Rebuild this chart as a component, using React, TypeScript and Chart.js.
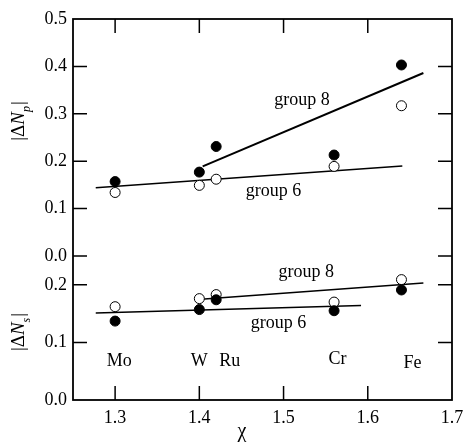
import React, { useEffect, useRef } from "react";
import { Chart, registerables } from "chart.js";

Chart.register(...registerables);

// ---- data ----
const elements = ["Mo", "W", "Ru", "Cr", "Fe"];
const chi = [1.3, 1.4, 1.42, 1.56, 1.64];
const npFilled = [0.157, 0.177, 0.231, 0.213, 0.403];
const npOpen = [0.134, 0.149, 0.162, 0.189, 0.317];
const nsFilled = [0.137, 0.157, 0.174, 0.155, 0.191];
const nsOpen = [0.162, 0.176, 0.183, 0.17, 0.209];

// fitted lines (end points)
const npGroup8X = [1.404, 1.666];
const npGroup8Y = [0.189, 0.386];
const npGroup6X = [1.277, 1.641];
const npGroup6Y = [0.144, 0.19];
const nsGroup8X = [1.402, 1.666];
const nsGroup8Y = [0.175, 0.203];
const nsGroup6X = [1.277, 1.592];
const nsGroup6Y = [0.151, 0.164];

const xTicks = [1.3, 1.4, 1.5, 1.6, 1.7];
const topTicks = [0.0, 0.1, 0.2, 0.3, 0.4, 0.5];
const botTicks = [0.0, 0.1, 0.2];

// text annotations (data coordinates)
const groupLabelText = ["group 8", "group 6", "group 8", "group 6"];
const groupLabelX = [1.522, 1.488, 1.527, 1.494];
const groupLabelY = [0.329, 0.136, 0.221, 0.133];
const groupLabelAxis = ["yTop", "yTop", "yBot", "yBot"];
const elementLabelX = [1.305, 1.4, 1.436, 1.564, 1.653];
const elementLabelY = [0.068, 0.068, 0.068, 0.07, 0.064];

const FONT = "Liberation Serif";

const pts = (xs: number[], ys: number[]) => xs.map((x, i) => ({ x, y: ys[i] }));

const frameAndTicks = {
  id: "frameAndTicks",
  afterDraw(chart: any) {
    const ctx = chart.ctx;
    const { left, right, top, bottom } = chart.chartArea;
    const sx = chart.scales.x;
    const yt = chart.scales.yTop;
    const yb = chart.scales.yBot;
    const TL = 14;
    ctx.save();
    ctx.strokeStyle = "#000";
    ctx.lineWidth = 1.5;
    ctx.beginPath();
    xTicks.slice(0, 4).forEach((v) => {
      const px = sx.getPixelForValue(v);
      ctx.moveTo(px, top);
      ctx.lineTo(px, top + TL);
      ctx.moveTo(px, bottom);
      ctx.lineTo(px, bottom - TL);
    });
    topTicks.slice(0, 5).forEach((v) => {
      const py = yt.getPixelForValue(v);
      ctx.moveTo(left, py);
      ctx.lineTo(left + TL, py);
      ctx.moveTo(right, py);
      ctx.lineTo(right - TL, py);
    });
    botTicks.slice(1).forEach((v) => {
      const py = yb.getPixelForValue(v);
      ctx.moveTo(left, py);
      ctx.lineTo(left + TL, py);
      ctx.moveTo(right, py);
      ctx.lineTo(right - TL, py);
    });
    ctx.stroke();
    ctx.lineWidth = 1.8;
    ctx.strokeRect(left, top, right - left, bottom - top);

    // annotations
    ctx.fillStyle = "#000";
    ctx.font = `18px "${FONT}"`;
    ctx.textAlign = "center";
    ctx.textBaseline = "middle";
    groupLabelText.forEach((t, i) => {
      const sc = chart.scales[groupLabelAxis[i]];
      ctx.fillText(t, sx.getPixelForValue(groupLabelX[i]), sc.getPixelForValue(groupLabelY[i]));
    });
    elements.forEach((t, i) => {
      ctx.fillText(t, sx.getPixelForValue(elementLabelX[i]), yb.getPixelForValue(elementLabelY[i]));
    });

    // x title
    ctx.font = `20px "${FONT}"`;
    ctx.fillText("χ", sx.getPixelForValue(1.4505), bottom + 32);

    // y titles
    const drawTitle = (cx: number, cy: number, sub: string) => {
      ctx.save();
      ctx.translate(cx, cy);
      ctx.rotate(-Math.PI / 2);
      ctx.textAlign = "left";
      ctx.textBaseline = "alphabetic";
      const fMain = `19px "${FONT}"`;
      const fIt = `italic 19px "${FONT}"`;
      const fSub = `italic 12px "${FONT}"`;
      ctx.font = fMain;
      const w1 = ctx.measureText("|Δ").width;
      const w4 = ctx.measureText("|").width;
      ctx.font = fIt;
      const w2 = ctx.measureText("N").width;
      ctx.font = fSub;
      const w3 = ctx.measureText(sub).width;
      const total = w1 + w2 + w3 + w4 + 1;
      let x = -total / 2;
      const base = 6;
      ctx.font = fMain;
      ctx.fillText("|Δ", x, base);
      x += w1;
      ctx.font = fIt;
      ctx.fillText("N", x, base);
      x += w2;
      ctx.font = fSub;
      ctx.fillText(sub, x, base + 6);
      x += w3 + 1;
      ctx.font = fMain;
      ctx.fillText("|", x, base);
      ctx.restore();
    };
    drawTitle(18, 121, "p");
    drawTitle(18, 332, "s");
    ctx.restore();
  },
};

const filledStyle = {
  showLine: false,
  pointRadius: 5,
  pointBackgroundColor: "#000",
  pointBorderColor: "#000",
  pointBorderWidth: 1,
  order: 0,
};
const openStyle = {
  showLine: false,
  pointRadius: 5,
  pointBackgroundColor: "#fff",
  pointBorderColor: "#000",
  pointBorderWidth: 1,
  order: 0,
};
const lineStyle = (w: number) => ({
  showLine: true,
  pointRadius: 0,
  borderColor: "#000",
  borderWidth: w,
  order: 1,
});

const noPad = (s: any) => {
  s.paddingLeft = 0;
  s.paddingRight = 0;
  s.paddingTop = 0;
  s.paddingBottom = 0;
};

export default function App() {
  const ref = useRef<HTMLCanvasElement | null>(null);
  useEffect(() => {
    if (!ref.current) return;
    const tickFont = { family: FONT, size: 18 };
    const chart = new Chart(ref.current, {
      type: "scatter",
      data: {
        datasets: [
          { data: pts(chi, npFilled), yAxisID: "yTop", ...filledStyle },
          { data: pts(chi, npOpen), yAxisID: "yTop", ...openStyle },
          { data: pts(chi, nsFilled), yAxisID: "yBot", ...filledStyle },
          { data: pts(chi, nsOpen), yAxisID: "yBot", ...openStyle },
          { data: pts(npGroup8X, npGroup8Y), yAxisID: "yTop", ...lineStyle(2) },
          { data: pts(npGroup6X, npGroup6Y), yAxisID: "yTop", ...lineStyle(1.5) },
          { data: pts(nsGroup8X, nsGroup8Y), yAxisID: "yBot", ...lineStyle(1.5) },
          { data: pts(nsGroup6X, nsGroup6Y), yAxisID: "yBot", ...lineStyle(1.5) },
        ] as any,
      },
      options: {
        animation: false,
        responsive: false,
        events: [],
        layout: { padding: { top: 19, right: 12, left: 0, bottom: 0 } },
        plugins: { legend: { display: false }, tooltip: { enabled: false } },
        scales: {
          x: {
            type: "linear",
            min: 1.25,
            max: 1.7,
            grid: { display: false, drawTicks: false },
            border: { display: false },
            afterBuildTicks: (s: any) => {
              s.ticks = xTicks.map((v) => ({ value: v }));
            },
            afterFit: (s: any) => {
              s.height = 43;
              noPad(s);
            },
            ticks: {
              font: tickFont,
              color: "#000",
              padding: 7,
              maxRotation: 0,
              callback: (v: any) => Number(v).toFixed(1),
            },
          },
          yTop: {
            type: "linear",
            position: "left",
            stack: "y",
            stackWeight: 237,
            weight: 2,
            min: 0,
            max: 0.5,
            grid: { display: false, drawTicks: false },
            border: { display: false },
            afterBuildTicks: (s: any) => {
              s.ticks = topTicks.map((v) => ({ value: v }));
            },
            afterFit: (s: any) => {
              s.width = 73;
              noPad(s);
            },
            ticks: {
              font: tickFont,
              color: "#000",
              padding: 6,
              callback: (v: any) => Number(v).toFixed(1),
            },
          },
          yBot: {
            type: "linear",
            position: "left",
            stack: "y",
            stackWeight: 144,
            weight: 1,
            min: 0,
            max: 0.25,
            grid: { display: false, drawTicks: false },
            border: { display: false },
            afterBuildTicks: (s: any) => {
              s.ticks = botTicks.map((v) => ({ value: v }));
            },
            afterFit: (s: any) => {
              s.width = 73;
              noPad(s);
            },
            ticks: {
              font: tickFont,
              color: "#000",
              padding: 6,
              callback: (v: any) => Number(v).toFixed(1),
            },
          },
        },
      } as any,
      plugins: [frameAndTicks],
    });
    return () => chart.destroy();
  }, []);
  return (
    <div style={{ position: "absolute", left: 0, top: 0, width: 464, height: 443, background: "#fff" }}>
      <canvas ref={ref} width={464} height={443} style={{ display: "block" }} />
    </div>
  );
}
